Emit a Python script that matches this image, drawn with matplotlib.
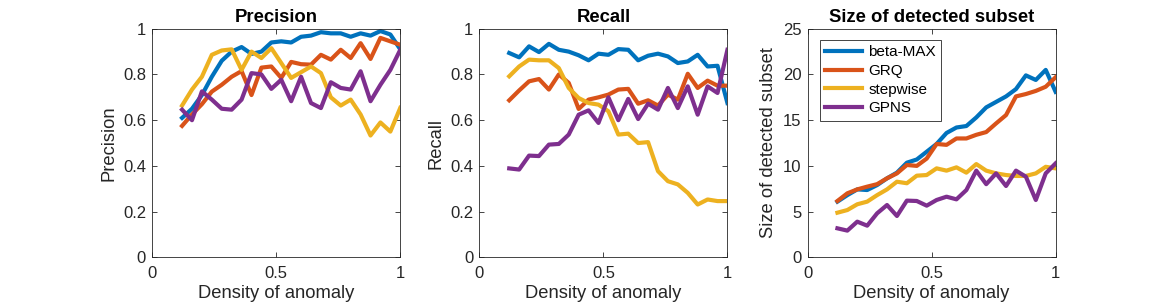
import numpy as np
import matplotlib
matplotlib.use("Agg")
import matplotlib.pyplot as plt

plt.rcParams['font.family'] = ['Liberation Sans', 'DejaVu Sans']

density = [0.12, 0.16, 0.20, 0.24, 0.28, 0.32, 0.36, 0.40, 0.44, 0.48, 0.52, 0.56,
           0.60, 0.64, 0.68, 0.72, 0.76, 0.80, 0.84, 0.88, 0.92, 0.96, 1.00]
methods = ['beta-MAX', 'GRQ', 'stepwise', 'GPNS']

prec_beta = [0.61, 0.65, 0.71, 0.79, 0.86, 0.90, 0.92, 0.89, 0.90, 0.94, 0.945, 0.94,
             0.965, 0.97, 0.985, 0.98, 0.98, 0.965, 0.98, 0.97, 0.99, 0.975, 0.91]
prec_grq = [0.575, 0.625, 0.67, 0.725, 0.755, 0.79, 0.815, 0.71, 0.83, 0.835, 0.785, 0.855,
            0.845, 0.843, 0.886, 0.865, 0.908, 0.872, 0.937, 0.868, 0.96, 0.945, 0.93]
prec_step = [0.664, 0.734, 0.79, 0.886, 0.905, 0.91, 0.82, 0.90, 0.872, 0.915, 0.85, 0.785,
             0.81, 0.835, 0.806, 0.70, 0.664, 0.69, 0.625, 0.533, 0.59, 0.55, 0.654]
prec_gpns = [0.646, 0.60, 0.726, 0.69, 0.65, 0.646, 0.69, 0.806, 0.80, 0.737, 0.777, 0.683,
             0.79, 0.675, 0.653, 0.766, 0.741, 0.734, 0.814, 0.683, 0.755, 0.82, 0.908]

rec_beta = [0.894, 0.875, 0.923, 0.898, 0.934, 0.908, 0.90, 0.884, 0.862, 0.891, 0.886, 0.911,
            0.908, 0.862, 0.882, 0.891, 0.879, 0.85, 0.857, 0.886, 0.835, 0.838, 0.675]
rec_grq = [0.687, 0.73, 0.77, 0.78, 0.734, 0.80, 0.763, 0.649, 0.69, 0.70, 0.712, 0.734,
           0.737, 0.672, 0.687, 0.664, 0.712, 0.69, 0.803, 0.741, 0.773, 0.751, 0.751]
rec_step = [0.792, 0.835, 0.865, 0.862, 0.862, 0.828, 0.741, 0.697, 0.675, 0.668, 0.639, 0.537,
            0.541, 0.50, 0.504, 0.377, 0.333, 0.319, 0.282, 0.231, 0.253, 0.246, 0.246]
rec_gpns = [0.389, 0.384, 0.445, 0.443, 0.493, 0.496, 0.537, 0.624, 0.643, 0.588, 0.70, 0.60,
            0.693, 0.605, 0.672, 0.646, 0.741, 0.653, 0.748, 0.624, 0.748, 0.719, 0.908]

size_beta = [6.09, 6.8, 7.43, 7.36, 7.9, 8.64, 9.26, 10.35, 10.7, 11.55, 12.4, 13.6,
             14.2, 14.36, 15.3, 16.4, 17.0, 17.6, 18.4, 19.9, 19.4, 20.5, 18.1]
size_grq = [6.16, 7.0, 7.43, 7.73, 8.0, 8.64, 9.18, 10.1, 10.0, 10.8, 12.4, 12.3,
            13.0, 13.0, 13.4, 13.7, 14.65, 15.56, 17.6, 17.86, 18.2, 18.66, 19.7]
size_step = [4.88, 5.17, 5.8, 6.09, 6.8, 7.43, 8.27, 8.1, 8.93, 9.0, 9.73, 9.48,
             9.84, 9.26, 10.2, 9.48, 9.18, 9.0, 8.9, 8.9, 9.18, 9.9, 9.73]
size_gpns = [3.17, 2.92, 3.9, 3.46, 4.81, 5.72, 4.52, 6.2, 6.16, 5.65, 6.27, 6.63,
             6.34, 7.36, 9.48, 8.0, 9.18, 7.8, 9.48, 8.82, 6.27, 9.18, 10.28]

colors = ['#0072BD', '#D95319', '#EDB120', '#7E2F8E']
axcol = '#262626'

fig = plt.figure(figsize=(11.68, 3.08), dpi=100)
lefts = [0.1304, 0.4105, 0.6915]
panels = [
    ('Precision', 'Precision', [prec_beta, prec_grq, prec_step, prec_gpns], (0, 1),
     [0, 0.2, 0.4, 0.6, 0.8, 1], ['0', '0.2', '0.4', '0.6', '0.8', '1']),
    ('Recall', 'Recall', [rec_beta, rec_grq, rec_step, rec_gpns], (0, 1),
     [0, 0.2, 0.4, 0.6, 0.8, 1], ['0', '0.2', '0.4', '0.6', '0.8', '1']),
    ('Size of detected subset', 'Size of detected subset',
     [size_beta, size_grq, size_step, size_gpns], (0, 25),
     [0, 5, 10, 15, 20, 25], ['0', '5', '10', '15', '20', '25']),
]

for k, (title, ylabel, series, ylim, yt, ytl) in enumerate(panels):
    ax = fig.add_axes([lefts[k], 0.1646, 0.2123, 0.742])
    for s, c, m in zip(series, colors, methods):
        ax.plot(density, s, color=c, lw=3.0, label=m)
    ax.set_xlim(0, 1)
    ax.set_ylim(*ylim)
    ax.set_xticks([0, 0.5, 1])
    ax.set_xticklabels(['0', '0.5', '1'])
    ax.set_yticks(yt)
    ax.set_yticklabels(ytl)
    ax.tick_params(direction='in', top=True, right=True, length=3.5, width=0.6,
                   colors=axcol, labelsize=12)
    ax.tick_params(axis='x', pad=6)
    ax.tick_params(axis='y', pad=4.5)
    for sp in ax.spines.values():
        sp.set_color(axcol)
        sp.set_linewidth(0.6)
    ax.set_xlabel('Density of anomaly', fontsize=13.2, color=axcol, labelpad=3.5)
    ax.set_ylabel(ylabel, fontsize=13.2, color=axcol, labelpad=4)
    ax.set_title(title, fontsize=13.3, fontweight='bold', pad=5)
    if k == 2:
        leg = ax.legend(loc='upper left', bbox_to_anchor=(0.0495, 0.9506), fontsize=11,
                        fancybox=False, framealpha=1, edgecolor=axcol,
                        handlelength=2.4, handletextpad=0.4, borderpad=0.35,
                        labelspacing=0.3, borderaxespad=0)
        leg.get_frame().set_linewidth(0.6)

fig.savefig('out.png', dpi=100)
